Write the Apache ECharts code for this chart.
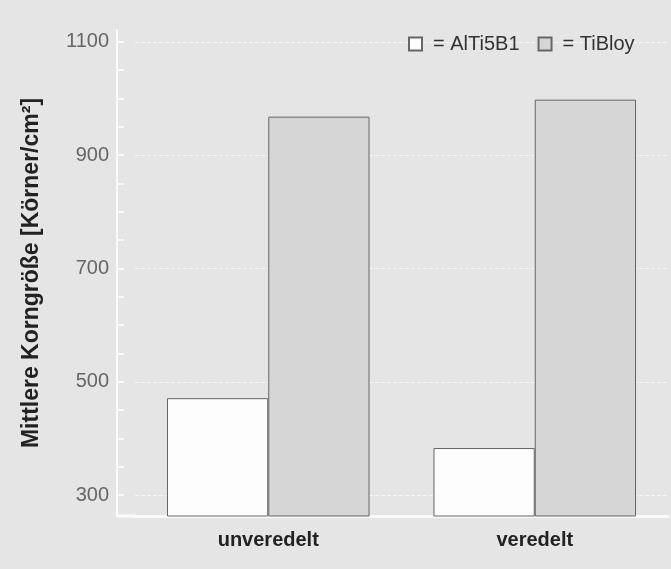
<!DOCTYPE html>
<html>
<head>
<meta charset="utf-8">
<script src="https://cdn.jsdelivr.net/npm/echarts@6/dist/echarts.min.js"></script>
<style>
  html, body { margin: 0; padding: 0; background: #e5e5e5; }
  #kornChart { width: 671px; height: 569px; }
</style>
</head>
<body>
<div id="kornChart"></div>
<script>
// data
const categories = ["unveredelt", "veredelt"];
const alTi5B1 = [471, 383];
const tiBloy = [968, 998];
const yLabels = [300, 500, 700, 900, 1100];
const yMinorTicks = [300, 350, 400, 450, 500, 550, 600, 650, 700, 750, 800, 850, 900, 950, 1000, 1050, 1100];

let chart = echarts.init(document.getElementById("kornChart"));
let option = {
  backgroundColor: "#e5e5e5",
  animation: false,
  textStyle: { fontFamily: "Liberation Sans, Arial, sans-serif" },
  legend: {
    left: 403,
    top: 29,
    itemWidth: 13,
    itemHeight: 13,
    itemGap: 18,
    icon: "rect",
    formatter: (name) => "= " + name,
    textStyle: { fontSize: 20, color: "#333", padding: [0, 0, 0, 6] },
    data: ["AlTi5B1", "TiBloy"],
  },
  grid: {
    left: 135,
    right: 3,
    top: 30,
    bottom: 53,
  },
  xAxis: {
    type: "category",
    data: categories,
    axisLine: { lineStyle: { color: "#fafafa", width: 3 } },
    axisTick: { show: false },
    axisLabel: {
      fontSize: 20,
      fontWeight: "bold",
      color: "#222",
      margin: 14,
    },
  },
  yAxis: [
    {
      type: "value",
      min: 263,
      max: 1121,
      offset: 18,
      name: "Mittlere Korngröße [Körner/cm²]",
      nameLocation: "middle",
      nameGap: 74,
      nameTextStyle: { fontSize: 23, fontWeight: "bold", color: "#222" },
      axisLine: { show: true, lineStyle: { color: "#fafafa", width: 2 } },
      axisTick: { show: false, customValues: yLabels },
      axisLabel: {
        customValues: yLabels,
        formatter: (v) => String(v),
        fontSize: 20,
        color: "#666",
        margin: 8,
      },
      splitLine: {
        show: true,
        lineStyle: { color: "rgba(255,255,255,0.6)", type: "dashed", width: 1 },
      },
    },
    {
      // second axis only for the small inner ticks every 50
      type: "value",
      position: "left",
      min: 263,
      max: 1121,
      offset: 18,
      axisLine: { show: false },
      axisTick: {
        show: true,
        inside: true,
        length: 7,
        customValues: yMinorTicks,
        lineStyle: { color: "#fafafa", width: 2 },
      },
      axisLabel: { show: false },
      splitLine: { show: false },
    },
  ],
  graphic: [
    {
      type: "line",
      shape: { x1: 116, y1: 516, x2: 136, y2: 516 },
      style: { stroke: "#fafafa", lineWidth: 3 },
      z: 10,
    },
  ],
  series: [
    {
      name: "AlTi5B1",
      type: "bar",
      data: alTi5B1,
      barGap: "0%",
      barCategoryGap: "24%",
      itemStyle: { color: "#fdfdfd", borderColor: "#666", borderWidth: 1 },
    },
    {
      name: "TiBloy",
      type: "bar",
      data: tiBloy,
      itemStyle: { color: "#d6d6d6", borderColor: "#666", borderWidth: 1 },
    },
  ],
};
chart.setOption(option);
</script>
</body>
</html>
